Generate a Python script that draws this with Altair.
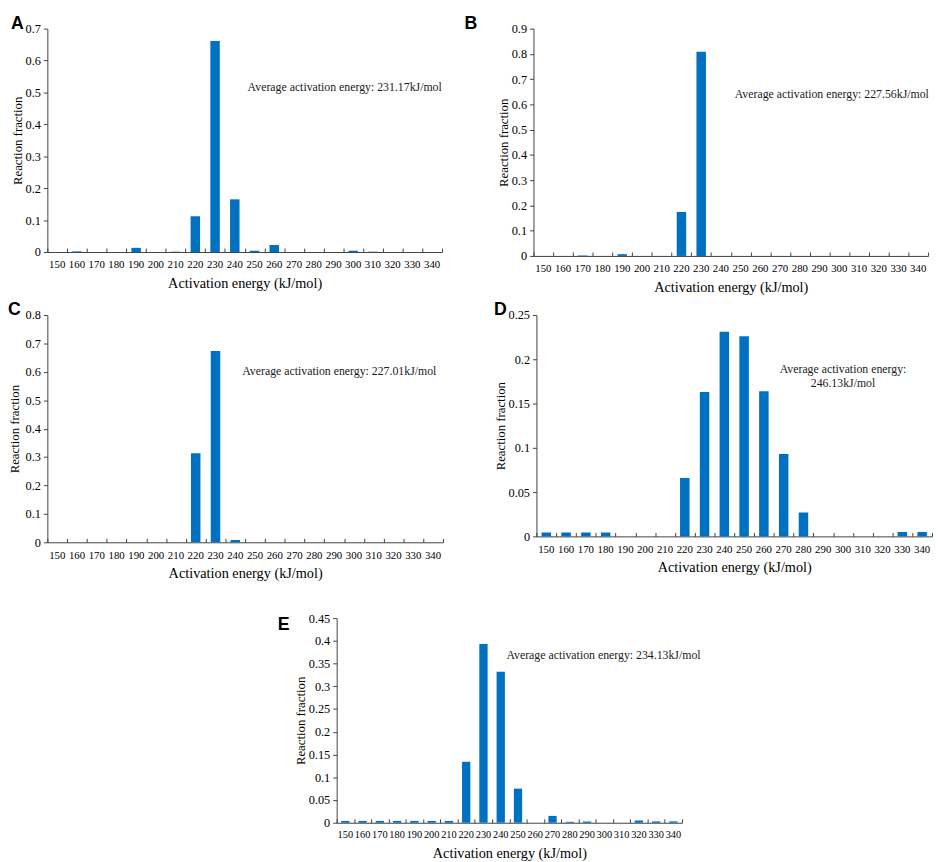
import altair as alt
import pandas as pd

# ---------------- data ----------------
energy = [150, 160, 170, 180, 190, 200, 210, 220, 230, 240,
          250, 260, 270, 280, 290, 300, 310, 320, 330, 340]

frac_a = [0.000, 0.002, 0.000, 0.000, 0.013, 0.000, 0.001, 0.112, 0.661, 0.165,
          0.004, 0.022, 0.000, 0.000, 0.000, 0.004, 0.001, 0.000, 0.000, 0.000]
frac_b = [0.000, 0.000, 0.002, 0.000, 0.007, 0.000, 0.000, 0.174, 0.808, 0.000,
          0.000, 0.000, 0.000, 0.000, 0.000, 0.000, 0.000, 0.000, 0.000, 0.000]
frac_c = [0.000, 0.000, 0.000, 0.000, 0.000, 0.000, 0.000, 0.313, 0.673, 0.008,
          0.000, 0.000, 0.000, 0.000, 0.000, 0.000, 0.000, 0.000, 0.000, 0.000]
frac_d = [0.0044, 0.0044, 0.0044, 0.0044, 0.000, 0.000, 0.000, 0.066, 0.163, 0.231,
          0.226, 0.164, 0.093, 0.027, 0.000, 0.000, 0.000, 0.000, 0.005, 0.005]
frac_e = [0.004, 0.004, 0.004, 0.004, 0.004, 0.004, 0.004, 0.134, 0.393, 0.332,
          0.075, 0.000, 0.015, 0.002, 0.003, 0.000, 0.000, 0.005, 0.003, 0.003]

yticks_a = [0, 0.1, 0.2, 0.3, 0.4, 0.5, 0.6, 0.7]
yticks_b = [0, 0.1, 0.2, 0.3, 0.4, 0.5, 0.6, 0.7, 0.8, 0.9]
yticks_c = [0, 0.1, 0.2, 0.3, 0.4, 0.5, 0.6, 0.7, 0.8]
yticks_d = [0, 0.05, 0.1, 0.15, 0.2, 0.25]
yticks_e = [0, 0.05, 0.1, 0.15, 0.2, 0.25, 0.3, 0.35, 0.4, 0.45]

note_a = "Average activation energy: 231.17kJ/mol"
note_b = "Average activation energy: 227.56kJ/mol"
note_c = "Average activation energy: 227.01kJ/mol"
note_d = "Average activation energy:\n246.13kJ/mol"
note_e = "Average activation energy: 234.13kJ/mol"

SERIF = "Liberation Serif"
BLUE = "#0070C0"
AX = "#404040"


def panel(letter, values, yticks, w, h, note, note_cat, note_y, note_band,
          note_align, note_dx, title_offset, title_dx, ytitle_pad=1,
          label_size=11):
    df = pd.DataFrame({"energy": energy, "fraction": values})
    xs = alt.Scale(domain=energy, paddingInner=0, paddingOuter=0)
    ys = alt.Scale(domain=[0, yticks[-1]], nice=False, zero=True)
    yaxis = alt.Axis(values=yticks, format=".2~f", grid=False,
                     tickSize=4, labelPadding=3, titlePadding=ytitle_pad,
                     title="Reaction fraction")

    bars = alt.Chart(df).mark_bar(
        width=alt.RelativeBandSize(0.48), color=BLUE
    ).encode(
        x=alt.X("energy:O", scale=xs, sort=None,
                axis=alt.Axis(orient="bottom", ticks=False, labelAngle=0,
                              labelPadding=7, titlePadding=7,
                              labelFontSize=label_size,
                              title="Activation energy (kJ/mol)")),
        y=alt.Y("fraction:Q", scale=ys, axis=yaxis),
    )

    ticks = alt.Chart(df).mark_point(opacity=0).encode(
        x=alt.X("energy:O", scale=xs, sort=None,
                axis=alt.Axis(orient="top", offset=-h, labels=False,
                              domain=False, title=None, tickBand="extent",
                              tickSize=4, tickWidth=1)),
    )

    ndf = pd.DataFrame({"energy": [note_cat], "fraction": [note_y], "label": [note]})
    text = alt.Chart(ndf).mark_text(
        align=note_align, baseline="middle", font=SERIF, fontSize=12,
        color="#1a1a1a", dx=note_dx, lineBreak="\n", lineHeight=14
    ).encode(
        x=alt.X("energy:O", scale=xs, sort=None, bandPosition=note_band, axis=None),
        y=alt.Y("fraction:Q", scale=ys, axis=yaxis),
        text="label:N",
    )

    return alt.layer(bars, ticks, text).resolve_axis(x="independent").properties(
        width=w, height=h,
        title=alt.TitleParams(letter, anchor="start", frame="group",
                              font="Liberation Sans", fontSize=18,
                              fontWeight="bold", color="black",
                              offset=title_offset, dx=title_dx),
    )


pa = panel("A", frac_a, yticks_a, 401, 227, note_a, 250, 0.518, 0, "left", 3, -10, -37)
pb = panel("B", frac_b, yticks_b, 401, 231, note_b, 250, 0.642, 0, "left", 4, -10, -70)
pc = panel("C", frac_c, yticks_c, 402, 231, note_c, 250, 0.603, 0, "left", -3, -10, -40,
           ytitle_pad=4)
pd_ = panel("D", frac_d, yticks_d, 402, 225, note_d, 300, 0.189, 0.5, "center", 0, -10, -43)
pe = panel("E", frac_e, yticks_e, 351, 208, note_e, 250, 0.368, 0, "left", -3, -22, -60,
           label_size=10.5)

spacer = alt.Chart(pd.DataFrame({"v": [0]})).mark_point(opacity=0).encode(
    x=alt.X("v:Q", axis=None), y=alt.Y("v:Q", axis=None)
).properties(width=234, height=10)

row1 = alt.hconcat(pa, pb, spacing=22)
row2 = alt.hconcat(pc, pd_, spacing=51)
row3 = alt.hconcat(spacer, pe, spacing=0)

chart = alt.vconcat(
    alt.vconcat(row1, row2, spacing=7), row3, spacing=32
).properties(
    padding=0
).configure_view(
    stroke=None
).configure_axis(
    labelFont=SERIF, titleFont=SERIF, labelFontSize=12.5, titleFontSize=13,
    labelColor="black", titleColor="black", domainColor=AX, tickColor=AX,
    titleFontWeight="normal"
).configure_axisX(
    labelFontSize=11, titleFontSize=14.5
)

chart.save("out.html", embed_options={"renderer": "svg", "actions": False})
